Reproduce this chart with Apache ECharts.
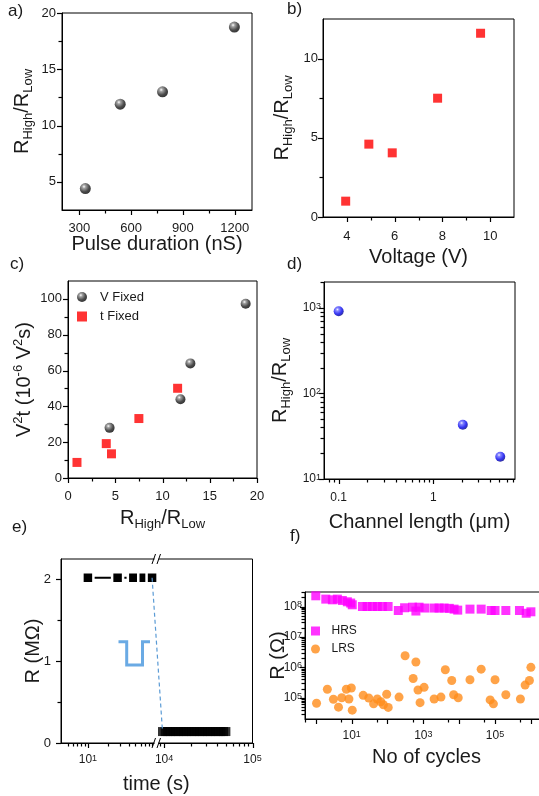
<!DOCTYPE html>
<html><head><meta charset="utf-8">
<script src="https://cdn.jsdelivr.net/npm/echarts@6/dist/echarts.min.js"></script>
<style>html,body{margin:0;padding:0;background:#fff}#c{width:539px;height:796px}</style>
</head><body><div id="c"></div>
<script>
// ---------- data ----------
// a) ratio vs pulse duration
const aPulse = [335, 537, 782, 1198];
const aRatio = [4.4, 11.9, 13.0, 18.75];
const aXTicks = [300, 450, 600, 750, 900, 1050, 1200];
const aXLabels = [300, 600, 900, 1200];
const aYTicks = [5, 7.5, 10, 12.5, 15, 17.5, 20];
const aYLabels = [5, 10, 15, 20];
// b) ratio vs voltage
const bVoltage = [3.95, 4.92, 5.9, 7.8, 9.6];
const bRatio = [1.0, 4.6, 4.05, 7.5, 11.6];
const bXTicks = [4, 5, 6, 7, 8, 9, 10];
const bXLabels = [4, 6, 8, 10];
const bYTicks = [0, 2.5, 5, 7.5, 10];
const bYLabels = [0, 5, 10];
// c) V^2 t vs ratio
const cVRatio = [4.4, 11.9, 12.95, 18.8];
const cVV2t = [28, 44, 64, 97.3];
const cTRatio = [0.95, 4.05, 4.6, 7.5, 11.6];
const cTV2t = [8.7, 19.2, 13.5, 33.2, 50.1];
const cXTicks = [0, 2.5, 5, 7.5, 10, 12.5, 15, 17.5, 20];
const cXLabels = [0, 5, 10, 15, 20];
const cYTicks = [0, 10, 20, 30, 40, 50, 60, 70, 80, 90, 100];
const cYLabels = [0, 20, 40, 60, 80, 100];
// d) ratio vs channel length
const dLength = [0.1, 2.05, 5.1];
const dRatio = [910, 43, 18.2];
const dXTicks = [0.08, 0.09, 0.1, 0.2, 0.3, 0.4, 0.5, 0.6, 0.7, 0.8, 0.9, 1, 2, 3, 4, 5, 6, 7];
const dXLabels = [0.1, 1];
const dYTicks = [10, 20, 30, 40, 50, 60, 70, 80, 90, 100, 200, 300, 400, 500, 600, 700, 800, 900, 1000, 2000];
const dYLabels = [10, 100, 1000];
// e) retention (broken time axis)
const eHighTime = [10, 27.5, 47, 67, 89];
const eHighR = [2.02, 2.02, 2.02, 2.02, 2.02];
const eLowTime = [9600, 10300, 11000, 11800, 12600, 13500, 14500, 15500, 16600, 17800, 19100, 20500, 22000, 23600, 25300, 27100, 29000, 31100, 33300, 35700, 38300, 41000, 44000, 47000, 50000];
const eLowR = [0.14, 0.14, 0.14, 0.14, 0.14, 0.14, 0.14, 0.14, 0.14, 0.14, 0.14, 0.14, 0.14, 0.14, 0.14, 0.14, 0.14, 0.14, 0.14, 0.14, 0.14, 0.14, 0.14, 0.14, 0.14];
const eXTicksLeft = [5, 6, 7, 8, 9, 10, 20, 30, 40, 50, 60, 70, 80, 90];
const eXLabelsLeft = [10];
const eXTicksRight = [9000, 10000, 20000, 30000, 40000, 50000, 60000, 70000, 80000, 90000, 100000];
const eXLabelsRight = [10000, 100000];
const eYTicks = [0, 0.5, 1, 1.5, 2];
const eYLabels = [0, 1, 2];
// f) endurance
const fHrsCycles = [1.0, 1.9, 2.9, 4.0, 5.5, 7.6, 9.4, 10.4, 20, 27, 38, 52, 72, 104, 200, 300, 500, 620, 760, 1100, 2000, 2750, 3800, 5300, 7200, 9100, 20000, 41000, 78000, 100000, 200000, 480000, 740000, 1000000];
const fHrsR = [2.25e8, 1.75e8, 1.66e8, 1.75e8, 1.58e8, 1.43e8, 1.3e8, 1.14e8, 1.0e8, 1.0e8, 1.0e8, 1.0e8, 1.0e8, 1.0e8, 7.4e7, 9.1e7, 9.5e7, 7.1e7, 9.5e7, 8.9e7, 8.9e7, 8.9e7, 8.9e7, 8.7e7, 8.2e7, 7.6e7, 8.2e7, 8.2e7, 7.4e7, 7.4e7, 7.4e7, 7.4e7, 6.0e7, 6.7e7];
const fLrsCycles = [1.05, 2.1, 3.1, 4.3, 5.3, 7.1, 8.4, 9.8, 10.4, 21, 30, 41, 52, 65, 77, 95, 105, 210, 310, 620, 520, 710, 810, 1050, 2000, 3100, 4100, 6200, 7000, 9400, 20000, 41000, 100000, 73000, 90000, 200000, 510000, 690000, 910000, 1000000];
const fLrsR = [6.6e4, 1.9e5, 8.9e4, 4.9e4, 1.0e5, 1.9e5, 9.1e4, 2.1e5, 3.9e4, 1.2e5, 9.8e4, 6.3e4, 9.1e4, 7.4e4, 5.9e4, 1.3e5, 4.8e4, 1.05e5, 2.4e6, 1.5e6, 4.3e5, 1.8e5, 6.9e4, 2.2e5, 9.1e4, 1.05e5, 8.3e5, 3.7e5, 1.25e5, 1.0e5, 3.9e5, 8.7e5, 3.9e5, 8.5e4, 6.3e4, 1.25e5, 9.1e4, 2.6e5, 3.7e5, 1.0e6];
const fXTicks = [0.5, 1, 5, 10, 50, 100, 500, 1000, 5000, 10000, 50000, 100000, 500000, 1000000];
const fXLabels = [10, 1000, 100000];
const fYTicks = [3e4, 4e4, 5e4, 6e4, 7e4, 8e4, 9e4, 1e5, 2e5, 3e5, 4e5, 5e5, 6e5, 7e5, 8e5, 9e5, 1e6, 2e6, 3e6, 4e6, 5e6, 6e6, 7e6, 8e6, 9e6, 1e7, 2e7, 3e7, 4e7, 5e7, 6e7, 7e7, 8e7, 9e7, 1e8, 2e8, 3e8];
const fYLabels = [1e5, 1e6, 1e7, 1e8];

// ---------- helpers ----------
const FONT = '"Liberation Sans", Arial, Helvetica, sans-serif';
const TXT = '#1a1a1a';
const zip = (xs, ys) => xs.map((x, i) => [x, ys[i]]);
const sphere = (c0, c1, c2, c3) => ({type: 'radial', x: 0.38, y: 0.32, r: 0.72,
  colorStops: [{offset: 0, color: c0}, {offset: 0.22, color: c1}, {offset: 0.65, color: c2}, {offset: 1, color: c3}]});
const BLACK_SPHERE = sphere('#ffffff', '#8a8a8a', '#1e1e1e', '#000000');
const BLUE_SPHERE = sphere('#eeeeff', '#6666ff', '#0000ee', '#00007a');
const supFmt = v => '10{sup|' + Math.round(Math.log10(v)) + '}';
const plainFmt = v => String(+(+v).toPrecision(4));
const SUP_RICH = {sup: {fontSize: 9, lineHeight: 9, verticalAlign: 'top', fontFamily: FONT, color: TXT}};
const NAME_RICH = {
  m: {fontSize: 20, lineHeight: 26, fontFamily: FONT, color: TXT},
  s: {fontSize: 13, lineHeight: 13, verticalAlign: 'bottom', fontFamily: FONT, color: TXT},
  p: {fontSize: 13, lineHeight: 13, verticalAlign: 'top', fontFamily: FONT, color: TXT}
};
const RATIO_NAME = '{m|R}{s|High}{m|/R}{s|Low}';

function axis(o) {
  return {
    gridIndex: o.grid, type: o.type || 'value', min: o.min, max: o.max, show: o.show !== false,
    logBase: 10,
    axisLine: {show: true, onZero: false, lineStyle: {color: '#000', width: 1}},
    axisTick: {show: false},
    axisLabel: {show: true, customValues: o.labels, color: TXT, fontSize: o.fs || 13, fontFamily: FONT,
      margin: o.margin, formatter: o.fmt || plainFmt, rich: o.rich, hideOverlap: false},
    splitLine: {show: false}, minorTick: {show: false},
    name: o.name, nameLocation: 'middle', nameGap: o.gap, nameMoveOverlap: false,
    nameTextStyle: {fontSize: 20, color: TXT, fontFamily: FONT, lineHeight: 24, rich: NAME_RICH, padding: o.npad || 0}
  };
}

const frame = {show: true, borderColor: '#000', borderWidth: 1, backgroundColor: 'transparent', outerBoundsMode: 'none', containLabel: false};
const grids = [
  Object.assign({left: 62, top: 13, width: 190, height: 197}, frame),
  Object.assign({left: 323, top: 19, width: 191, height: 198}, frame),
  Object.assign({left: 68, top: 281, width: 189, height: 197}, frame),
  Object.assign({left: 324, top: 282, width: 191, height: 197}, frame),
  {left: 61, top: 559, width: 94.5, height: 184, show: false, outerBoundsMode: 'none', containLabel: false},
  {left: 155.5, top: 559, width: 97, height: 184, show: false, outerBoundsMode: 'none', containLabel: false},
  Object.assign({left: 305, top: 592, width: 243, height: 127}, frame)
];

const R = [
  {x: [200, 1300], y: [2.5, 20]},
  {x: [3, 11], y: [0, 12.5]},
  {x: [0, 20], y: [0, 110]},
  {x: [0.07, 7.3], y: [10, 2000], log: true},
  {x: [4, 100], y: [0, 2.25], logX: true},
  {x: [8000, 100000], y: [0, 2.25], logX: true},
  {x: [0.5, 3e6], y: [2e4, 3e8], log: true}
];

const xAxes = [
  axis({grid: 0, min: R[0].x[0], max: R[0].x[1], labels: aXLabels, margin: 12, name: 'Pulse duration (nS)', gap: 22}),
  axis({grid: 1, min: R[1].x[0], max: R[1].x[1], labels: bXLabels, margin: 13, name: 'Voltage (V)', gap: 28}),
  axis({grid: 2, min: R[2].x[0], max: R[2].x[1], labels: cXLabels, margin: 12, name: RATIO_NAME, gap: 27}),
  axis({grid: 3, type: 'log', min: R[3].x[0], max: R[3].x[1], labels: dXLabels, margin: 13, fs: 12,
        name: 'Channel length (\u03bcm)', gap: 31}),
  axis({grid: 4, type: 'log', min: R[4].x[0], max: R[4].x[1], labels: eXLabelsLeft, margin: 11, fs: 12,
        fmt: supFmt, rich: SUP_RICH, name: 'time (s)', gap: 29, npad: [0, 0, 0, 96]}),
  axis({grid: 5, type: 'log', min: R[5].x[0], max: R[5].x[1], labels: eXLabelsRight, margin: 11, fs: 12,
        fmt: supFmt, rich: SUP_RICH}),
  axis({grid: 6, type: 'log', min: R[6].x[0], max: R[6].x[1], labels: fXLabels, margin: 11, fs: 12,
        fmt: supFmt, rich: SUP_RICH, name: 'No of cycles', gap: 26})
];

const yAxes = [
  axis({grid: 0, min: R[0].y[0], max: R[0].y[1], labels: aYLabels, margin: 6, name: RATIO_NAME, gap: 27}),
  axis({grid: 1, min: R[1].y[0], max: R[1].y[1], labels: bYLabels, margin: 5, name: RATIO_NAME, gap: 28}),
  axis({grid: 2, min: R[2].y[0], max: R[2].y[1], labels: cYLabels, margin: 6,
        name: 'V{p|2}t (10{p|-6} V{p|2}s)', gap: 32}),
  axis({grid: 3, type: 'log', min: R[3].y[0], max: R[3].y[1], labels: dYLabels, margin: 3, fs: 12,
        fmt: supFmt, rich: SUP_RICH, name: RATIO_NAME, gap: 31}),
  axis({grid: 4, min: R[4].y[0], max: R[4].y[1], labels: eYLabels, margin: 10, name: 'R (M\u03a9)', gap: 16}),
  axis({grid: 5, min: R[5].y[0], max: R[5].y[1], show: false}),
  axis({grid: 6, type: 'log', min: R[6].y[0], max: R[6].y[1], labels: fYLabels, margin: 3, fs: 12,
        fmt: supFmt, rich: SUP_RICH, name: 'R (\u03a9)', gap: 15})
];

const series = [
  {type: 'scatter', name: 'a', xAxisIndex: 0, yAxisIndex: 0, data: zip(aPulse, aRatio), symbol: 'circle', symbolSize: 11,
   itemStyle: {color: BLACK_SPHERE}, z: 3},
  {type: 'scatter', name: 'b', xAxisIndex: 1, yAxisIndex: 1, data: zip(bVoltage, bRatio), symbol: 'rect', symbolSize: 9,
   itemStyle: {color: '#ff0000'}, z: 3},
  {type: 'scatter', name: 'V Fixed', xAxisIndex: 2, yAxisIndex: 2, data: zip(cVRatio, cVV2t), symbol: 'circle', symbolSize: 10,
   itemStyle: {color: BLACK_SPHERE}, z: 3},
  {type: 'scatter', name: 't Fixed', xAxisIndex: 2, yAxisIndex: 2, data: zip(cTRatio, cTV2t), symbol: 'rect', symbolSize: 9,
   itemStyle: {color: '#ff0000'}, z: 3},
  {type: 'scatter', name: 'd', xAxisIndex: 3, yAxisIndex: 3, data: zip(dLength, dRatio), symbol: 'circle', symbolSize: 10,
   itemStyle: {color: BLUE_SPHERE}, z: 3},
  {type: 'line', name: 'eHigh', xAxisIndex: 4, yAxisIndex: 4, data: zip(eHighTime, eHighR), symbol: 'rect', symbolSize: 11,
   showAllSymbol: true, lineStyle: {color: '#000', width: 2},
   itemStyle: {color: '#000', borderColor: '#fff', borderWidth: 2.5}, z: 3},
  {type: 'scatter', name: 'eLow', xAxisIndex: 5, yAxisIndex: 5, data: zip(eLowTime, eLowR), symbol: 'rect', symbolSize: 9,
   itemStyle: {color: '#000'}, z: 3},
  {type: 'scatter', name: 'HRS', xAxisIndex: 6, yAxisIndex: 6, data: zip(fHrsCycles, fHrsR), symbol: 'rect', symbolSize: 9,
   itemStyle: {color: '#ff00ff'}, z: 3},
  {type: 'scatter', name: 'LRS', xAxisIndex: 6, yAxisIndex: 6, data: zip(fLrsCycles, fLrsR), symbol: 'circle', symbolSize: 9,
   itemStyle: {color: '#ff8c1a'}, z: 3}
];

const SQ = 'path://M0,0L10,0L10,10L0,10Z';
const legendBase = {orient: 'vertical', padding: 0, symbolKeepAspect: true, selectedMode: false,
  textStyle: {fontSize: 13, color: TXT, fontFamily: FONT}};
const legends = [
  Object.assign({}, legendBase, {data: ['V Fixed', {name: 't Fixed', icon: SQ}], left: 77, top: 290.5,
    itemWidth: 26, itemHeight: 10, itemGap: 6.5}),
  Object.assign({}, legendBase, {data: [{name: 'HRS', icon: SQ}, 'LRS'], left: 311, top: 625, itemWidth: 22, itemHeight: 9, itemGap: 6,
    textStyle: {fontSize: 12, color: TXT, fontFamily: FONT}})
];

const chart = echarts.init(document.getElementById('c'), null, {renderer: 'canvas'});
chart.setOption({
  animation: false,
  backgroundColor: '#fff',
  grid: grids, xAxis: xAxes, yAxis: yAxes, series: series, legend: legends
});

// ---------- tick marks, positioned through each axis' own scale ----------
const isPow10 = v => Math.abs(Math.log10(v) - Math.round(Math.log10(v))) < 1e-9;
const mid = (r, lg) => lg ? Math.sqrt(r[0] * r[1]) : (r[0] + r[1]) / 2;
function tickMarks(dim, gi, vals, majors, isLog) {
  const g = grids[gi];
  const finder = {xAxisIndex: gi, yAxisIndex: gi};
  const out = [];
  const yMidV = mid(R[gi].y, !!R[gi].log);
  const xMidV = mid(R[gi].x, !!(R[gi].log || R[gi].logX));
  vals.forEach(v => {
    const len = (majors.indexOf(v) >= 0 || (isLog && isPow10(v))) ? 5 : 3.5;
    let p = null;
    try { p = chart.convertToPixel(finder, dim === 'x' ? [v, yMidV] : [xMidV, v]); } catch (e) { p = null; }
    if (!p) return;
    if (dim === 'x') {
      const x = Math.round(+p[0]) + 0.5, y0 = g.top + g.height;
      if (!isFinite(x)) return;
      out.push({type: 'line', z: 70, shape: {x1: x, y1: y0, x2: x, y2: y0 + len}, style: {stroke: '#000', lineWidth: 1.2}});
    } else {
      const y = Math.round(+p[1]) + 0.5, x0 = g.left;
      if (!isFinite(y)) return;
      out.push({type: 'line', z: 70, shape: {x1: x0, y1: y, x2: x0 - len, y2: y}, style: {stroke: '#000', lineWidth: 1.2}});
    }
  });
  return out;
}
const tickGraphics = [].concat(
  tickMarks('x', 0, aXTicks, aXLabels, false), tickMarks('y', 0, aYTicks, aYLabels, false),
  tickMarks('x', 1, bXTicks, bXLabels, false), tickMarks('y', 1, bYTicks, bYLabels, false),
  tickMarks('x', 2, cXTicks, cXLabels, false), tickMarks('y', 2, cYTicks, cYLabels, false),
  tickMarks('x', 3, dXTicks, dXLabels, true), tickMarks('y', 3, dYTicks, dYLabels, true),
  tickMarks('x', 4, eXTicksLeft, eXLabelsLeft, true), tickMarks('y', 4, eYTicks, eYLabels, false),
  tickMarks('x', 5, eXTicksRight, eXLabelsRight, true),
  tickMarks('x', 6, fXTicks, fXLabels, true), tickMarks('y', 6, fYTicks, fYLabels, true)
);

// ---------- decorations ----------
const lastHigh = eHighTime.length - 1;
const p1 = chart.convertToPixel({xAxisIndex: 4, yAxisIndex: 4}, [eHighTime[lastHigh], eHighR[lastHigh]]);
const p2 = chart.convertToPixel({xAxisIndex: 5, yAxisIndex: 5}, [eLowTime[0], eLowR[0]]);
const eL = 61, eT = 559, eR = 252.5, eB = 743, brk = 156.5;
const label = (t, x, y) => ({type: 'text', left: x, top: y, z: 50, style: {text: t, fontSize: 17, fill: TXT, font: '17px ' + FONT}});
const breakMark = (y) => [
  {type: 'rect', z: 60, shape: {x: brk - 2, y: y - 2.5, width: 4, height: 5}, style: {fill: '#fff', stroke: null}},
  {type: 'line', z: 61, shape: {x1: brk - 4.5, y1: y + 5, x2: brk - 1, y2: y - 5}, style: {stroke: '#000', lineWidth: 1}},
  {type: 'line', z: 61, shape: {x1: brk + 0.5, y1: y + 5, x2: brk + 4, y2: y - 5}, style: {stroke: '#000', lineWidth: 1}}
];
chart.setOption({
  graphic: [
    label('a)', 8, 3), label('b)', 287, 1), label('c)', 10, 256), label('d)', 287, 256),
    label('e)', 12, 519), label('f)', 290, 528),
    {type: 'rect', z: 40, shape: {x: eL, y: eT, width: eR - eL, height: eB - eT}, style: {fill: null, stroke: '#000', lineWidth: 1}},
    {type: 'line', z: 45, shape: {x1: p1[0], y1: p1[1], x2: p2[0], y2: p2[1]},
     style: {stroke: '#5b9bd5', lineWidth: 1.2, lineDash: [4, 3]}},
    {type: 'polyline', z: 45, shape: {points: [[118.5, 641.7], [126.7, 641.7], [126.7, 665], [142.5, 665], [142.5, 641.7], [150, 641.7]]},
     style: {stroke: '#6aaae4', lineWidth: 3, fill: null}}
  ].concat(breakMark(eT), breakMark(eB), tickGraphics)
});
</script></body></html>
